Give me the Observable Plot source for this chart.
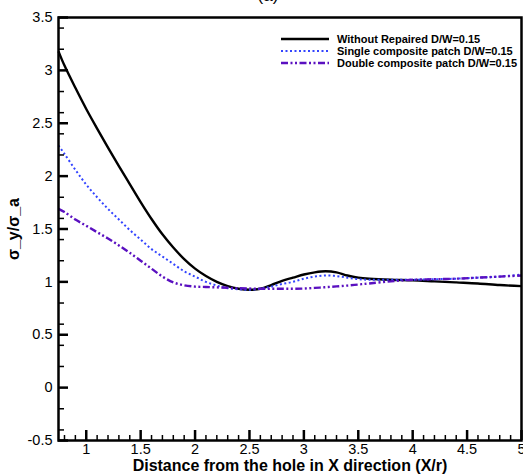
<!DOCTYPE html>
<html>
<head>
<meta charset="utf-8">
<script src="https://cdn.jsdelivr.net/npm/d3@7"></script>
<script src="https://cdn.jsdelivr.net/npm/@observablehq/plot@0.6"></script>
<style>
  html, body { margin: 0; padding: 0; background: #fff; }
  #wrap { position: relative; width: 523px; height: 475px; overflow: hidden; font-family: "Liberation Sans", Arial, sans-serif; }
  #wrap > svg { font-family: "Liberation Sans", Arial, sans-serif; }
  #title { position: absolute; left: 248px; top: -14px; width: 40px; text-align: center; font-size: 17px; color: #000; }
  #legend { position: absolute; left: 281px; top: 33px; font-size: 11px; font-weight: bold; color: #000; }
  .row { display: flex; align-items: center; height: 12px; }
  .sw { width: 48px; height: 8px; margin-right: 8px; display: block; }
</style>
</head>
<body>
<div id="wrap"></div>
<script>
// ---- data ----
const xs = [0.745,0.8,0.9,1.0,1.1,1.2,1.3,1.4,1.5,1.6,1.7,1.8,1.9,2.0,2.1,2.2,2.3,2.4,2.5,2.6,2.7,2.8,2.9,3.0,3.1,3.2,3.3,3.4,3.5,3.6,3.8,4.0,4.2,4.4,4.6,4.8,5.0];
const withoutRepaired = [3.18,3.045,2.835,2.635,2.45,2.27,2.095,1.925,1.755,1.595,1.45,1.325,1.215,1.125,1.055,1.00,0.96,0.935,0.925,0.935,0.97,1.01,1.04,1.07,1.09,1.10,1.09,1.06,1.04,1.03,1.02,1.015,1.005,0.995,0.985,0.97,0.96];
const singlePatch = [2.29,2.21,2.06,1.92,1.80,1.69,1.59,1.49,1.40,1.31,1.24,1.17,1.10,1.05,1.00,0.965,0.94,0.93,0.925,0.935,0.955,0.98,1.00,1.03,1.05,1.06,1.055,1.04,1.025,1.02,1.02,1.02,1.025,1.03,1.04,1.05,1.07];
const doublePatch = [1.69,1.66,1.59,1.53,1.47,1.41,1.345,1.275,1.20,1.125,1.05,0.995,0.968,0.955,0.952,0.948,0.944,0.94,0.937,0.935,0.935,0.935,0.935,0.937,0.943,0.95,0.957,0.965,0.975,0.985,1.005,1.02,1.025,1.03,1.04,1.05,1.06];
const seriesNames = ["Without Repaired D/W=0.15", "Single composite patch D/W=0.15", "Double composite patch D/W=0.15"];
const xMajor = [1,1.5,2,2.5,3,3.5,4,4.5,5];
const xMinor = [0.8,0.9,1.1,1.2,1.3,1.4,1.6,1.7,1.8,1.9,2.1,2.2,2.3,2.4,2.6,2.7,2.8,2.9,3.1,3.2,3.3,3.4,3.6,3.7,3.8,3.9,4.1,4.2,4.3,4.4,4.6,4.7,4.8,4.9];
const yMajor = [-0.5,0,0.5,1,1.5,2,2.5,3,3.5];
const yMinor = [-0.4,-0.2,0.2,0.4,0.6,0.8,1.2,1.4,1.6,1.8,2.2,2.4,2.6,2.8,3.2,3.4];
const xLabel = "Distance from the hole in X direction (X/r)";
const yLabel = "σ_y/σ_a";

// ---- styles ----
const styles = [
  {stroke: "#000000", strokeWidth: 2.4, strokeDasharray: null},
  {stroke: "#3344ff", strokeWidth: 2, strokeDasharray: "2,2.5"},
  {stroke: "#5a10c0", strokeWidth: 2.4, strokeDasharray: "7,2.5,2,2.5,2,2.5"}
];
const seriesValues = [withoutRepaired, singlePatch, doublePatch];

const W = 523, H = 475;
const mL = 58, mR = 2, mT = 17, mB = 35;
const innerW = W - mL - mR, innerH = H - mT - mB;

const lineMarks = seriesValues.map((vals, i) => {
  const data = xs.map((x, j) => ({x, y: vals[j]}));
  return Plot.line(data, {x: "x", y: "y", curve: "catmull-rom",
    stroke: styles[i].stroke, strokeWidth: styles[i].strokeWidth,
    strokeDasharray: styles[i].strokeDasharray, strokeLinecap: "butt"});
});

const wrap = document.getElementById("wrap");
const chart = Plot.plot({
  width: W, height: H,
  marginLeft: mL, marginRight: mR, marginTop: mT, marginBottom: mB,
  x: {domain: [0.745, 5]},
  y: {domain: [-0.5, 3.5]},
  marks: [
    ...lineMarks,
    // inward ticks
    Plot.ruleX(xMajor, {x: d => d, insetTop: innerH - 10, stroke: "#000", strokeWidth: 2.5}),
    Plot.ruleX(xMinor, {x: d => d, insetTop: innerH - 5, stroke: "#000", strokeWidth: 1.5}),
    Plot.ruleY(yMajor, {y: d => d, insetRight: innerW - 10, stroke: "#000", strokeWidth: 2.5}),
    Plot.ruleY(yMinor, {y: d => d, insetRight: innerW - 6, stroke: "#000", strokeWidth: 1.5}),
    // tick labels
    Plot.axisX({ticks: xMajor, tickSize: 0, tickPadding: 3, fontSize: 14.5, tickFormat: d => String(d), label: null}),
    Plot.axisY({ticks: yMajor, tickSize: 0, tickPadding: 6, fontSize: 14.5, tickFormat: d => String(d), label: null}),
    Plot.frame({stroke: "#000", strokeWidth: 2.5}),
    Plot.text([xLabel], {frameAnchor: "bottom", dy: 30, fontSize: 16, fontWeight: "bold", fill: "#000", textAnchor: "middle"}),
    Plot.text([yLabel], {frameAnchor: "left", dx: -45, rotate: -90, fontSize: 16, fontWeight: "bold", fill: "#000", textAnchor: "middle"})
  ]
});
wrap.appendChild(chart);

const title = document.createElement("div");
title.id = "title";
title.textContent = "(a)";
wrap.appendChild(title);

// legend overlay
const legend = document.createElement("div");
legend.id = "legend";
seriesNames.forEach((name, i) => {
  const row = document.createElement("div");
  row.className = "row";
  const s = styles[i];
  row.innerHTML = `<svg class="sw" viewBox="0 0 48 8"><line x1="0" y1="4" x2="48" y2="4" stroke="${s.stroke}" stroke-width="${s.strokeWidth}" ${s.strokeDasharray ? `stroke-dasharray="${s.strokeDasharray}"` : ""}/></svg><span>${name}</span>`;
  legend.appendChild(row);
});
wrap.appendChild(legend);
</script>
</body>
</html>
